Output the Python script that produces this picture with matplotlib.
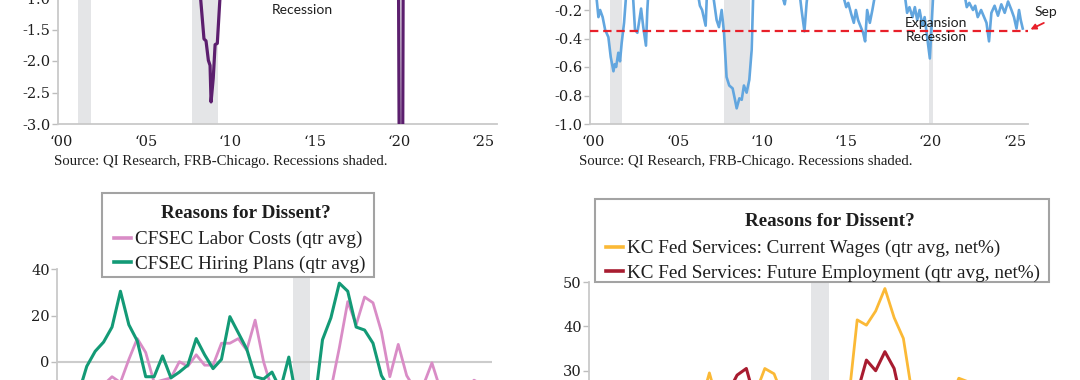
import matplotlib
matplotlib.use("Agg")
import matplotlib.pyplot as plt
from matplotlib.lines import Line2D
from matplotlib.patches import Rectangle
import pandas as pd

plt.rcParams['lines.scale_dashes'] = False
plt.rcParams['font.family'] = ['DejaVu Serif']

W, H = 1080, 380
fig = plt.figure(figsize=(W / 100, H / 100), dpi=100)

SERIF = ['Liberation Serif', 'DejaVu Serif']
TICKF = ['DejaVu Serif']
SANS = ['Lato', 'DejaVu Sans']

# ---------------- data ----------------
rec_monthly = [(2001.17, 2001.92), (2007.92, 2009.50), (2020.08, 2020.33)]
rec_quarterly = [(2020.0, 2020.5)]

year_ticks = [2000, 2005, 2010, 2015, 2020, 2025]
year_labels = ['\u201800', '\u201805', '\u201810', '\u201815', '\u201820', '\u201825']

# CFNAI 3-month average (top left)
ma3_t = [2000.0, 2000.5, 2000.9, 2001.2, 2001.5, 2001.8, 2002.1, 2002.5, 2002.9, 2003.3,
         2003.8, 2004.3, 2005.0, 2005.6, 2005.9, 2006.2, 2006.8, 2007.3, 2007.9, 2008.2,
         2008.40, 2008.64, 2008.76, 2008.90, 2009.00, 2009.06, 2009.19, 2009.30, 2009.43, 2009.62,
         2009.9, 2010.4, 2011.0, 2011.7, 2012.3, 2013.0, 2014.0, 2014.8, 2015.5, 2016.2,
         2016.9, 2017.5, 2018.2, 2018.8, 2019.5, 2019.9, 2020.17, 2020.25, 2020.33, 2020.40,
         2020.49, 2020.6, 2020.9, 2021.3, 2021.9, 2022.5, 2023.0, 2023.6, 2024.2, 2024.8,
         2025.3, 2025.67]
ma3_v = [0.35, 0.05, -0.45, -0.85, -0.92, -0.95, -0.5, -0.1, -0.35, -0.45,
         0.2, 0.35, 0.05, 0.2, -0.3, 0.4, -0.2, -0.05, -0.3, -0.6,
         -0.88, -1.65, -1.68, -1.99, -2.07, -2.65, -2.27, -1.74, -1.72, -0.85,
         0.1, 0.4, 0.1, 0.2, -0.1, 0.1, 0.3, 0.2, -0.2, -0.3,
         0.0, 0.2, 0.3, 0.1, -0.3, -0.25, -0.4, -5.0, -7.5, -5.8,
         3.0, 4.2, 1.2, 0.9, 0.5, 0.1, -0.2, 0.0, -0.2, -0.15,
         -0.1, -0.2]

# CFNAI diffusion index (top right)
di_t = [2000.0, 2000.3, 2000.4, 2000.5, 2000.6, 2000.75, 2000.9, 2001.09, 2001.23, 2001.39,
        2001.47, 2001.55, 2001.68, 2001.78, 2001.88, 2002.02, 2002.14, 2002.3, 2002.55, 2002.67,
        2002.81, 2002.93, 2003.03, 2003.16, 2003.32, 2003.4, 2003.5, 2004.0, 2005.0, 2005.8,
        2006.42, 2006.52, 2006.65, 2006.86, 2006.95, 2007.31, 2007.51, 2007.65, 2007.81, 2007.95,
        2008.10, 2008.26, 2008.46, 2008.60, 2008.70, 2008.86, 2009.00, 2009.13, 2009.29, 2009.45,
        2009.59, 2009.68, 2010.0, 2011.0, 2011.4, 2011.55, 2011.7, 2012.4, 2012.55, 2012.72,
        2012.85, 2013.0, 2014.0, 2015.02, 2015.2, 2015.32, 2015.5, 2015.65, 2015.77, 2015.9,
        2016.2, 2016.32, 2016.44, 2016.6, 2016.75, 2016.9, 2017.5, 2018.68, 2018.81, 2018.95,
        2019.13, 2019.27, 2019.41, 2019.55, 2019.72, 2019.85, 2020.0, 2020.16, 2020.28, 2020.4,
        2021.0, 2022.23, 2022.35, 2022.5, 2022.72, 2022.85, 2023.0, 2023.2, 2023.52, 2023.67,
        2023.81, 2024.0, 2024.2, 2024.4, 2024.6, 2024.8, 2025.0, 2025.15, 2025.3, 2025.45,
        2025.55, 2025.67]
di_v = [0.1, 0.0, -0.13, -0.25, -0.2, -0.25, -0.34, -0.39, -0.53, -0.63,
        -0.58, -0.6, -0.5, -0.56, -0.43, -0.29, -0.1, 0.05, -0.1, -0.34,
        -0.36, -0.27, -0.19, -0.32, -0.45, -0.2, 0.0, 0.2, 0.05, 0.1,
        -0.1, -0.17, -0.2, -0.31, -0.05, -0.1, -0.27, -0.32, -0.2, -0.36,
        -0.67, -0.73, -0.75, -0.83, -0.89, -0.82, -0.83, -0.73, -0.78, -0.69,
        -0.48, -0.1, 0.2, 0.1, -0.1, -0.16, -0.05, -0.05, -0.2, -0.35,
        -0.15, 0.0, 0.1, -0.1, -0.18, -0.15, -0.23, -0.29, -0.2, -0.27,
        -0.36, -0.42, -0.2, -0.29, -0.2, -0.1, 0.1, -0.1, -0.22, -0.18,
        -0.25, -0.18, -0.27, -0.2, -0.31, -0.25, -0.39, -0.54, -0.27, 0.0,
        0.3, -0.1, -0.18, -0.15, -0.2, -0.17, -0.25, -0.2, -0.29, -0.42,
        -0.22, -0.17, -0.24, -0.16, -0.22, -0.14, -0.2, -0.25, -0.33, -0.2,
        -0.27, -0.33]

# CFSEC (bottom left), quarterly 2013Q3 - 2025Q3
cf_quarters = pd.period_range('2013Q3', '2025Q3', freq='Q')
cf_labor = [-15, -12, -10, -10, -6.5, -9, 1, 10, 4, -9,
            -8, -7, 0, -2, 3, -1.5, -1.5, 8, 8, 10,
            5, 18, 0, -12, -15, -12, -20, -30, -25, -18,
            -12, 6, 26, 16, 28, 25.5, 13, -6.5, 7.5, -6,
            -12, -10, -0.5, -12, -10, -15, -12, -8, -10]
cf_hiring = [-14, -2, 4.5, 8.5, 15, 30.5, 16, 9, -6.5, -6.5,
             2.5, -7, -4.5, -1.5, 10, 3, -3, 1, 19.5, 12.5,
             5.5, -6.5, -7.5, -4.5, -12, 2, -18, -30, -20, 9.5,
             19, 34, 30.5, 15, 13.7, 8, -6, -12, -15, -18,
             -20, -16, -14, -18, -20, -15, -12, -10, -13]

# KC Fed services (bottom right), quarterly 2014Q1 - 2025Q3
kc_quarters = pd.period_range('2014Q1', '2025Q3', freq='Q')
kc_wages = [12, 15, 14, 18, 16, 19, 17, 20, 18, 21,
            19, 20, 22, 29.5, 22, 24, 23, 26, 25, 30.5,
            29.3, 24, 25, 22, 18, 2, 8, 14, 22, 41.5,
            40.3, 43.5, 48.6, 42, 37.3, 24, 22, 20, 21, 23,
            28.3, 27.5, 21, 19, 22, 18, 19]
kc_employ = [10, 12, 11, 14, 12, 15, 13, 12, 14, 13,
             15, 17, 19, 21, 20, 25, 29, 30.5, 23, 22,
             19, 18, 17, 15, 5, -10, 8, 12, 18, 25,
             32.4, 30, 34.3, 30.5, 21, 15, 13, 10, 12, 9,
             14, 13, 11, 15, 10, 6, 8]

cf_x = [p.year + (p.quarter - 1) / 4 + 0.125 for p in cf_quarters]
kc_x = [p.year + (p.quarter - 1) / 4 for p in kc_quarters]

# ---------------- styling helpers ----------------
SHADE = '#e4e5e7'
SPINE = '#c9c9c9'
TXT = '#1e1e1e'
RED = '#e8202a'
LEGFS = 13.8


def fx(px):
    return px / W


def fy(py):
    return 1 - py / H


def axes_px(left, right, top, bottom):
    return fig.add_axes([fx(left), fy(bottom), (right - left) / W, (bottom - top) / H])


def style(ax):
    for s in ('top', 'right'):
        ax.spines[s].set_visible(False)
    for s in ('left', 'bottom'):
        ax.spines[s].set_color(SPINE)
        ax.spines[s].set_linewidth(1.3)
    ax.tick_params(axis='y', direction='out', length=4, width=1, color='#bdbdbd',
                   labelcolor=TXT, labelsize=10.5, pad=1.5, labelfontfamily=TICKF[0])
    ax.tick_params(axis='x', length=0, labelcolor=TXT, labelsize=10.5, pad=8,
                   labelfontfamily=TICKF[0])
    ax.set_facecolor('none')


def legend_box(ax, handles, labels, box, title_xy, entry_left, entry_top):
    x0, y0, x1, y1 = box
    ax.add_patch(Rectangle((fx(x0), fy(y1)), (x1 - x0) / W, (y1 - y0) / H,
                           transform=fig.transFigure, clip_on=False, facecolor='white',
                           edgecolor='#a3a3a3', lw=1.5, zorder=9))
    ax.text(fx(title_xy[0]), fy(title_xy[1]), 'Reasons for Dissent?', transform=fig.transFigure,
            ha='center', va='center', family=SERIF, fontweight='bold', fontsize=LEGFS,
            color=TXT, zorder=11, clip_on=False)
    leg = ax.legend(handles, labels, loc='upper left',
                    bbox_to_anchor=(fx(entry_left), fy(entry_top)), bbox_transform=fig.transFigure,
                    prop={'family': SERIF, 'size': LEGFS}, frameon=False,
                    borderpad=0, labelspacing=0.36, handlelength=0.9, handletextpad=0.22,
                    borderaxespad=0)
    for t in leg.get_texts():
        t.set_color(TXT)
    leg.set_zorder(12)
    return leg


# ---------------- top left ----------------
ax1 = axes_px(58.3, 496.7, 124 - 4 * 63, 124)
for a, b in rec_monthly:
    ax1.axvspan(a, b, color=SHADE, lw=0, zorder=0)
ax1.plot(ma3_t, ma3_v, color='#5c1f6e', lw=2.3, zorder=3)
ax1.axhline(-0.7, color=RED, lw=1.6, dashes=(6, 3.5), zorder=4)
ax1.set_xlim(2000, 2026)
ax1.set_ylim(-3.0, 1.0)
ytk = [-3.0, -2.5, -2.0, -1.5, -1.0, -0.5, 0.0, 0.5, 1.0]
ax1.set_yticks(ytk)
ax1.set_yticklabels([f'{v:.1f}' for v in ytk])
ax1.set_xticks([y + 0.2 for y in year_ticks])
ax1.set_xticklabels(year_labels)
style(ax1)
ax1.text(2014.5, -1.19, 'Recession', ha='center', va='center', family=SANS, fontsize=10, color=TXT)
ax1.annotate('', xy=(2018.5, -1.03), xytext=(2018.9, -0.6),
             arrowprops=dict(arrowstyle='-|>', color=RED, lw=1.3, mutation_scale=8))

# ---------------- top right ----------------
ax2 = axes_px(590, 1028.3, 124 - 1.4 * 142.5, 124)
for a, b in rec_monthly:
    ax2.axvspan(a, b, color=SHADE, lw=0, zorder=0)
ax2.plot(di_t, di_v, color='#62a6df', lw=1.9, zorder=3)
ax2.axhline(-0.35, color=RED, lw=1.6, dashes=(6, 3.5), zorder=4)
ax2.set_xlim(2000, 2026)
ax2.set_ylim(-1.0, 0.4)
ytk2 = [-1.0, -0.8, -0.6, -0.4, -0.2, 0.0, 0.2, 0.4]
ax2.set_yticks(ytk2)
ax2.set_yticklabels([f'{v:.1f}' for v in ytk2])
ax2.set_xticks([y + 0.2 for y in year_ticks])
ax2.set_xticklabels(year_labels)
style(ax2)
ax2.text(2020.5, -0.289, 'Expansion', ha='center', va='center', family=SANS, fontsize=10, color=TXT, zorder=5)
ax2.text(2020.55, -0.387, 'Recession', ha='center', va='center', family=SANS, fontsize=10, color=TXT, zorder=5)
ax2.text(2027.06, -0.212, 'Sep', ha='center', va='center', family=SANS, fontsize=10, color=TXT, clip_on=False)
ax2.annotate('', xy=(2025.98, -0.345), xytext=(2027.07, -0.282), annotation_clip=False,
             arrowprops=dict(arrowstyle='-|>', color=RED, lw=1.3, mutation_scale=8))

src = 'Source: QI Research, FRB-Chicago. Recessions shaded.'
fig.text(fx(54.3), fy(161), src, ha='left', va='center', family=SERIF, fontsize=10.6, color=TXT)
fig.text(fx(579.3), fy(161), src, ha='left', va='center', family=SERIF, fontsize=10.6, color=TXT)

# ---------------- bottom left ----------------
ax3 = axes_px(57.3, 491.7, 269.3, 269.3 + 80 * 2.31)
for a, b in rec_quarterly:
    ax3.axvspan(a, b, color=SHADE, lw=0, zorder=0)
ax3.axhline(0, color='#cccccc', lw=1.5, zorder=1)
ax3.plot(cf_x, cf_labor, color='#d98cc6', lw=2.0, zorder=3)
ax3.plot(cf_x, cf_hiring, color='#139a76', lw=2.2, zorder=4)
ax3.set_xlim(2013, 2025.9)
ax3.set_ylim(-40, 40)
ax3.set_yticks([-40, -20, 0, 20, 40])
ax3.set_xticks([])
style(ax3)
ax3.spines['bottom'].set_visible(False)
h3 = [Line2D([], [], color='#d98cc6', lw=2.6), Line2D([], [], color='#139a76', lw=2.6)]
legend_box(ax3, h3, ['CFSEC Labor Costs (qtr avg)', 'CFSEC Hiring Plans (qtr avg)'],
           (102.3, 193, 374, 277), (246, 213), 114, 231)

# ---------------- bottom right ----------------
ax4 = axes_px(589.3, 589.3 + 12 * 36.95, 282.3, 282.3 + 50 * 4.42)
for a, b in rec_quarterly:
    ax4.axvspan(a, b, color=SHADE, lw=0, zorder=0)
ax4.plot(kc_x, kc_wages, color='#fbb936', lw=2.0, zorder=3)
ax4.plot(kc_x, kc_employ, color='#a81c30', lw=2.2, zorder=4)
ax4.set_xlim(2014, 2026)
ax4.set_ylim(0, 50)
ax4.set_yticks([0, 10, 20, 30, 40, 50])
ax4.set_xticks([])
style(ax4)
ax4.spines['bottom'].set_visible(False)
h4 = [Line2D([], [], color='#fbb936', lw=2.6), Line2D([], [], color='#a81c30', lw=2.6)]
legend_box(ax4, h4, ['KC Fed Services: Current Wages (qtr avg, net%)',
                     'KC Fed Services: Future Employment (qtr avg, net%)'],
           (595, 199, 1049.3, 282), (829.8, 221.5), 605.8, 239.8)

fig.savefig('out.png', dpi=100)
